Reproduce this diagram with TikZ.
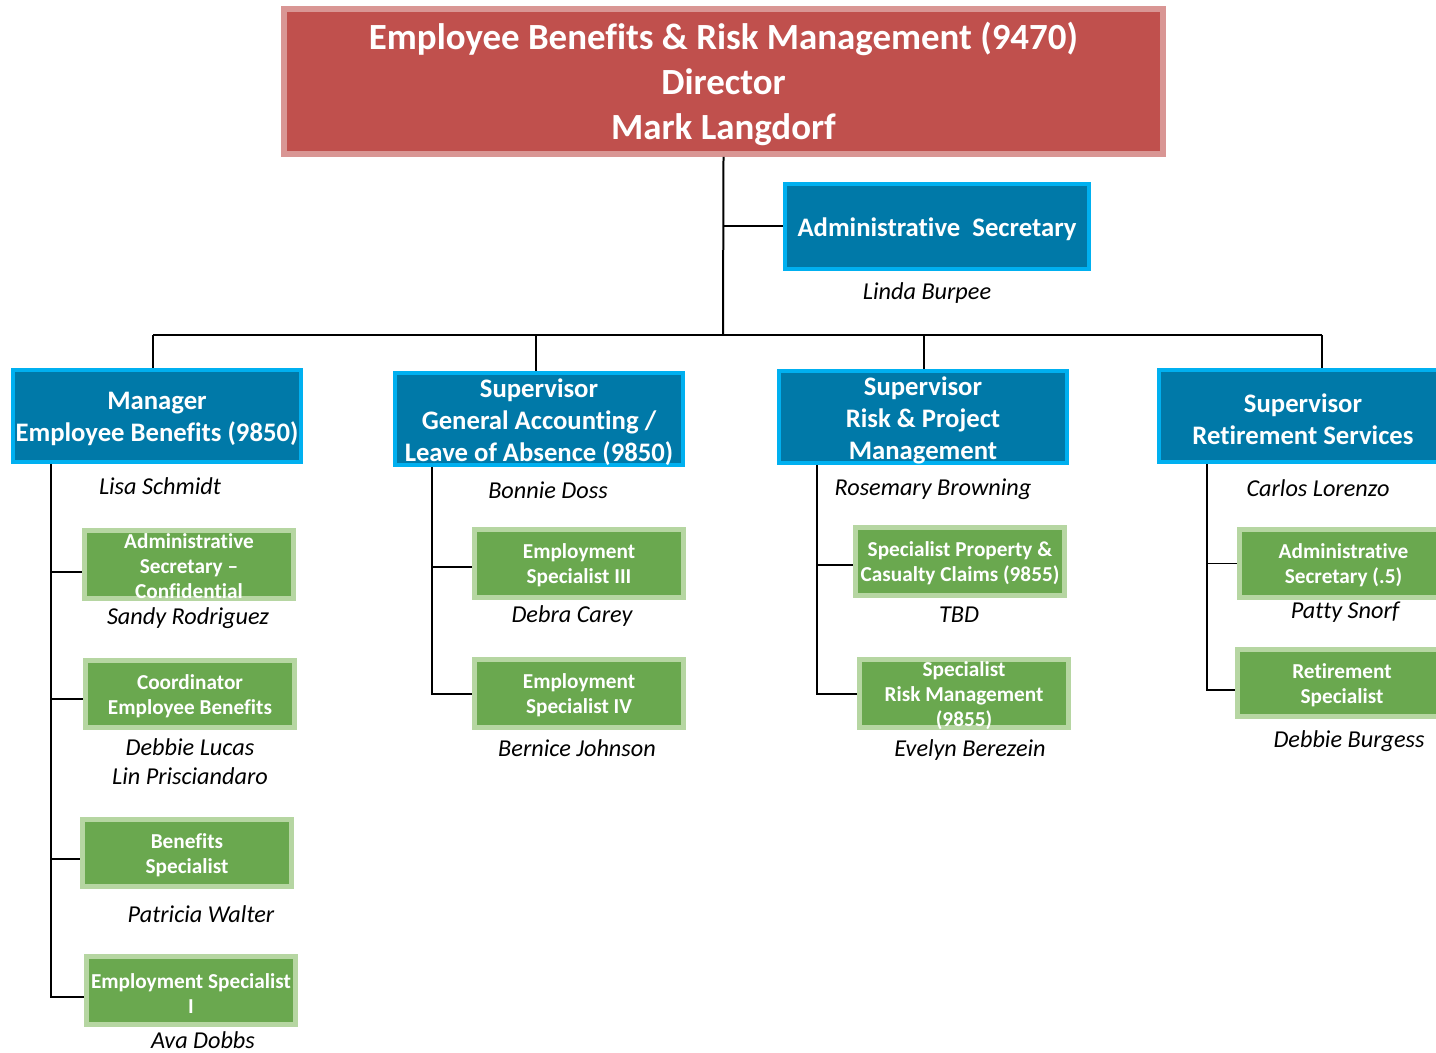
\documentclass[tikz,border=0pt]{standalone}
\usepackage{fontspec}
\setmainfont{Carlito}[Ligatures=NoCommon]
\definecolor{titlefill}{RGB}{192,80,77}
\definecolor{titleedge}{RGB}{217,150,148}
\definecolor{bluefill}{RGB}{0,121,168}
\definecolor{blueedge}{RGB}{0,176,240}
\definecolor{greenfill}{RGB}{106,168,79}
\definecolor{greenedge}{RGB}{182,214,162}
\tikzset{
 titlebox/.style={draw=titleedge, fill=titlefill, line width=0.12cm, minimum width=17.58cm, minimum height=2.9cm, inner sep=0},
 bluebox/.style={draw=blueedge, fill=bluefill, line width=0.08cm, minimum width=5.76cm, minimum height=1.84cm, inner sep=0},
 admbox/.style={bluebox, minimum width=6.08cm, minimum height=1.7cm},
 greenbox/.style={draw=greenedge, fill=greenfill, line width=0.1cm, minimum width=4.18cm, minimum height=1.36cm, inner sep=0},
 ttext/.style={text=white, align=center, inner sep=0, font=\bfseries\fontsize{21}{25.5}\selectfont},
 btext/.style={text=white, align=center, inner sep=0, yshift=-0.06cm, font=\bfseries\fontsize{15.2}{18.2}\selectfont},
 gtext/.style={text=white, align=center, inner sep=0, yshift=-0.04cm, font=\bfseries\fontsize{12.1}{14.2}\selectfont},
 person/.style={align=center, inner sep=0, text=black, font=\itshape\fontsize{13.8}{16.5}\selectfont},
 link/.style={draw=black, line width=0.04cm},
}
\begin{document}
\begin{tikzpicture}[x=0.02cm, y=-0.02cm]
\useasboundingbox (0,0) rectangle (1436,1053);
\clip (0,0) rectangle (1436,1053);

% boxes
\node[titlebox] (title) at (723.5,81.5) {};
\node[ttext] (titlet) at (723.5,84) {Employee Benefits \& Risk Management (9470)\\Director\\Mark Langdorf};

\node[admbox] (adm) at (937,226.5) {};
\node[btext] (admt) at (adm.center) {Administrative\ \ Secretary};
\node[person] (admn) at (927,293) {Linda Burpee};

\node[bluebox] (b1) at (157,416) {};
\node[btext] (b1t) at (b1.center) {Manager\\Employee Benefits (9850)};
\node[bluebox] (b2) at (539,419) {};
\node[btext] (b2t) at (b2.center) {Supervisor\\General Accounting /\\Leave of Absence (9850)};
\node[bluebox] (b3) at (923,417) {};
\node[btext] (b3t) at (b3.center) {Supervisor\\Risk \& Project\\Management};
\node[bluebox] (b4) at (1303,416) {};
\node[btext] (b4t) at (b4.center) {Supervisor\\Retirement Services};

\node[person] (b1n) at (160,486) {Lisa Schmidt};
\node[person] (b2n) at (548,490) {Bonnie Doss};
\node[person] (b3n) at (933,489) {Rosemary Browning};
\node[person] (b4n) at (1318,488) {Carlos Lorenzo};

% green boxes column 1
\node[greenbox] (g1a) at (189,564.5) {};
\node[gtext] (g1at) at (g1a.center) {Administrative\\Secretary --\\Confidential};
\node[person] (g1an) at (188,618) {Sandy Rodriguez};
\node[greenbox] (g1b) at (190,694) {};
\node[gtext] (g1bt) at (g1b.center) {Coordinator\\Employee Benefits};
\node[person] (g1bn) at (190,761.5) {Debbie Lucas\\Lin Prisciandaro};
\node[greenbox] (g1c) at (187,853) {};
\node[gtext] (g1ct) at (g1c.center) {Benefits\\Specialist};
\node[person] (g1cn) at (201,914) {Patricia Walter};
\node[greenbox] (g1d) at (191,990.5) {};
\node[gtext] (g1dt) at (191,991.5) {Employment Specialist\\I};
\node[person] (g1dn) at (203,1040) {Ava Dobbs};

% column 2
\node[greenbox] (g2a) at (579,563.5) {};
\node[gtext] (g2at) at (g2a.center) {Employment\\Specialist III};
\node[person] (g2an) at (572,616) {Debra Carey};
\node[greenbox] (g2b) at (579,693.5) {};
\node[gtext] (g2bt) at (g2b.center) {Employment\\Specialist IV};
\node[person] (g2bn) at (577,748) {Bernice Johnson};

% column 3
\node[greenbox] (g3a) at (960,561.5) {};
\node[gtext] (g3at) at (g3a.center) {Specialist Property \&\\Casualty Claims (9855)};
\node[person] (g3an) at (959,615) {TBD};
\node[greenbox] (g3b) at (964,693.5) {};
\node[gtext] (g3bt) at (g3b.center) {Specialist\\Risk Management\\(9855)};
\node[person] (g3bn) at (970,750) {Evelyn Berezein};

% column 4
\node[greenbox] (g4a) at (1343.5,563.5) {};
\node[gtext] (g4at) at (g4a.center) {Administrative\\Secretary (.5)};
\node[person] (g4an) at (1345,612) {Patty Snorf};
\node[greenbox] (g4b) at (1342,683) {};
\node[gtext] (g4bt) at (g4b.center) {Retirement\\Specialist};
\node[person] (g4bn) at (1349,741) {Debbie Burgess};

% connectors
\coordinate (bus) at (723,335);
\coordinate (d1) at (153,335);
\coordinate (d2) at (536,335);
\coordinate (d3) at (924,335);
\coordinate (d4) at (1322,335);
\draw[link] (title.south) -- (bus);
\draw[link] (title.south |- adm.west) -- (adm.west);
\draw[link] (d1) -- (d4);
\draw[link] (d1) -- (d1 |- b1.north);
\draw[link] (d2) -- (d2 |- b2.north);
\draw[link] (d3) -- (d3 |- b3.north);
\draw[link] (d4) -- (d4 |- b4.north);

\coordinate (e1a) at ([yshift=-0.16cm]g1a.west);
\coordinate (e1b) at ([yshift=-0.1cm]g1b.west);
\coordinate (e1c) at ([yshift=-0.12cm]g1c.west);
\coordinate (e1d) at ([yshift=-0.13cm]g1d.west);
\coordinate (e2a) at ([yshift=-0.07cm]g2a.west);
\coordinate (e3a) at ([yshift=-0.07cm]g3a.west);
\coordinate (e4b) at ([yshift=-0.14cm]g4b.west);

\coordinate (s1) at (51,464);
\draw[link] (s1) |- (e1d);
\draw[link] (s1 |- e1a) -- (e1a);
\draw[link] (s1 |- e1b) -- (e1b);
\draw[link] (s1 |- e1c) -- (e1c);

\coordinate (s2) at (432,467);
\draw[link] (s2) |- (g2b.west);
\draw[link] (s2 |- e2a) -- (e2a);

\coordinate (s3) at (817,465);
\draw[link] (s3) |- (g3b.west);
\draw[link] (s3 |- e3a) -- (e3a);

\coordinate (s4) at (1207,464);
\draw[link] (s4) |- (e4b);
\draw[link] (s4 |- g4a.west) -- (g4a.west);
\end{tikzpicture}
\end{document}
